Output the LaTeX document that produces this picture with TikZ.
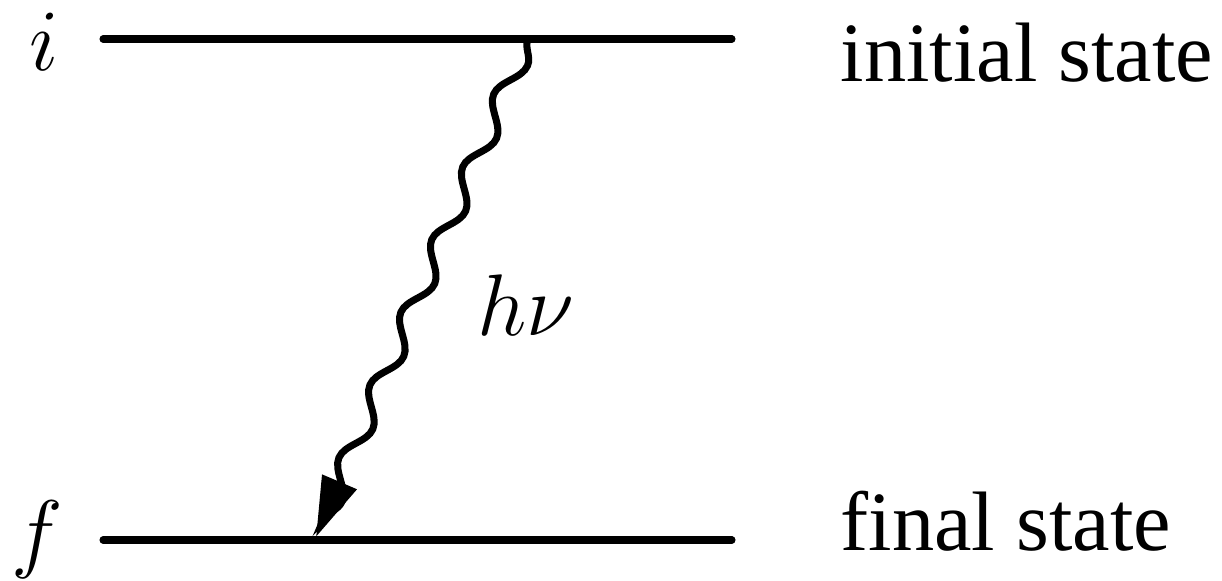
\documentclass[tikz,border=0pt]{standalone}
\usepackage{fontspec}
\setmainfont{Liberation Serif}
\usetikzlibrary{arrows.meta,decorations.pathmorphing}

\begin{document}
\begin{tikzpicture}[
    level/.style={line width=2pt, line cap=round},
    photon/.style={line width=2pt, line cap=round, decorate,
        decoration={snake, amplitude=1mm, segment length=7.9mm, post length=0.5mm},
        -{Triangle[length=6mm, width=3.6mm]}},
    lbl/.style={inner sep=0pt, anchor=base}
]

    \useasboundingbox (0,0) rectangle (12.22,5.80);

    % energy levels
    \coordinate (i0) at (1.03, 5.41);
    \coordinate (i1) at (7.32, 5.41);
    \coordinate (f0) at (1.03, 0.40);
    \coordinate (f1) at (7.32, 0.40);
    \draw[level] (i0) -- (i1);
    \draw[level] (f0) -- (f1);

    \node[lbl] (ilab) at (0.44, 5.09) {\fontsize{24.88}{30}\selectfont $i$};
    \node[lbl] (flab) at (0.37, 0.19) {\fontsize{24.88}{30}\selectfont $f$};

    \node[lbl, anchor=base west] (istate) at (8.40, 4.98) {\fontsize{24}{29}\selectfont initial state};
    \node[lbl, anchor=base west] (fstate) at (8.40, 0.30) {\fontsize{24}{29}\selectfont final state};

    % emitted photon
    \coordinate (emit) at (5.28, 5.41);
    \coordinate (land) at (3.16, 0.43);
    \draw[photon] (emit) -- (land);

    \node[lbl, anchor=base west] (hnu) at (4.77, 2.45) {\fontsize{24.88}{30}\selectfont $h\nu$};

\end{tikzpicture}
\end{document}
